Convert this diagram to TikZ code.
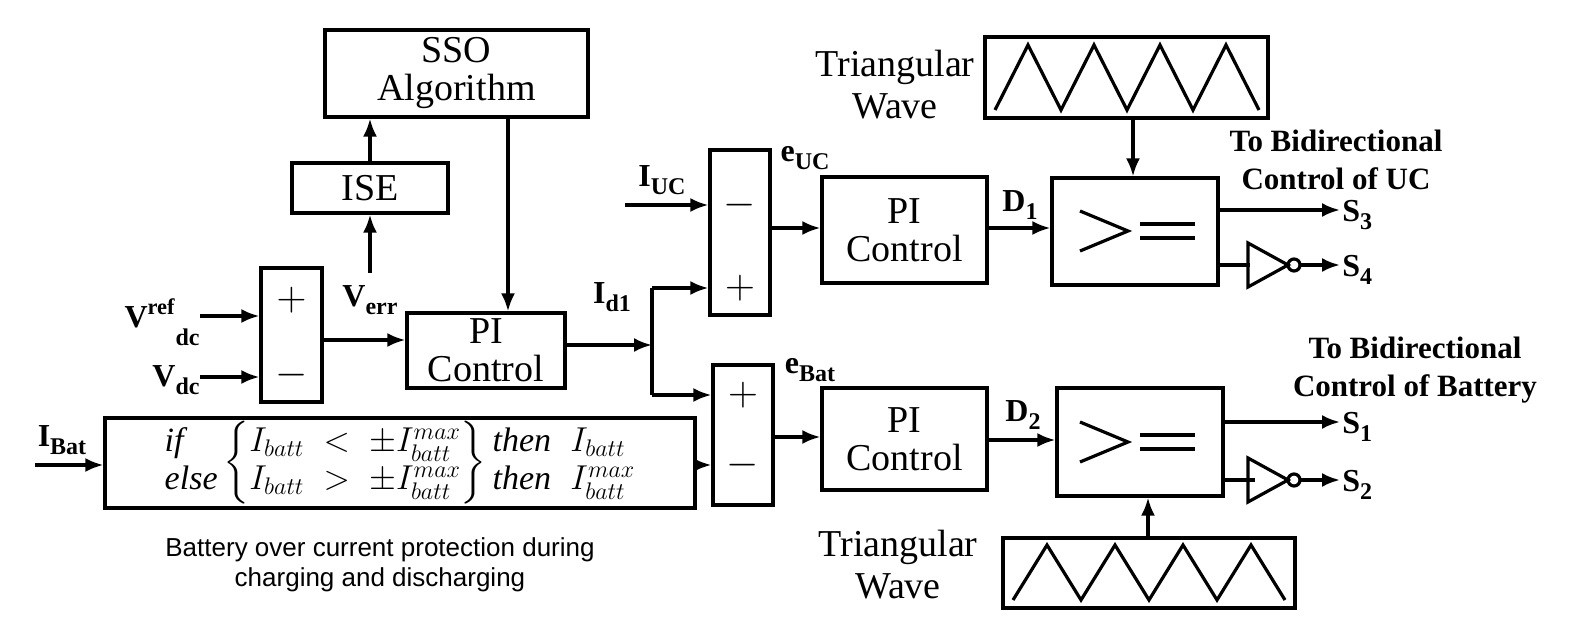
\documentclass[tikz,border=0pt]{standalone}
\usepackage{fontspec}
\usepackage{amsmath}
\setmainfont{Liberation Serif}
\newfontfamily\capsans{Liberation Sans}
\usetikzlibrary{arrows.meta}
\begin{document}
\begin{tikzpicture}[x=0.5pt,y=-0.5pt,
  box/.style={draw,line width=1.6pt,inner sep=0pt,font=\fontsize{19}{19}\selectfont,align=center},
  lbl/.style={font=\fontsize{16}{18}\bfseries\selectfont,inner sep=0pt},
  arr/.style={line width=1.6pt,-{Latex[length=9pt,width=7pt]}},
  ln/.style={line width=1.6pt}]
\useasboundingbox (0,0) rectangle (1578,630);
% boxes
\node[box,minimum width=131.5pt,minimum height=43.5pt] (sso) at (456.5,73.5) {SSO\\Algorithm};
\node[box,minimum width=78pt,minimum height=25pt] (ise) at (370,188) {ISE};
\node[box,minimum width=30.5pt,minimum height=67pt] (s1) at (291.5,335) {};
\node[font=\fontsize{20}{20}\selectfont] at (291.5,300) {$+$};
\node[font=\fontsize{20}{20}\selectfont] at (291.5,375) {$-$};
\node[box,minimum width=79pt,minimum height=37.5pt] (pi1) at (486,350.5) {PI\\Control};
\node[box,minimum width=30pt,minimum height=82.5pt] (s2) at (740,232.5) {};
\node[font=\fontsize{20}{20}\selectfont] at (740,205) {$-$};
\node[font=\fontsize{20}{20}\selectfont] at (740,288) {$+$};
\node[box,minimum width=30pt,minimum height=70pt] (s3) at (743,435) {};
\node[font=\fontsize{20}{20}\selectfont] at (743,395) {$+$};
\node[font=\fontsize{20}{20}\selectfont] at (743,465) {$-$};
\node[box,minimum width=82.5pt,minimum height=53pt] (pi2) at (904.5,230) {PI\\Control};
\node[box,minimum width=82.5pt,minimum height=51pt] (pi3) at (904.5,439) {PI\\Control};
\node[box,minimum width=83pt,minimum height=53.5pt] (c1) at (1135,231.5) {};
\node[box,minimum width=83pt,minimum height=54pt] (c2) at (1140,442) {};
\node[box,minimum width=141.5pt,minimum height=40.5pt] (t1) at (1126.5,77.5) {};
\node[box,minimum width=146pt,minimum height=35pt] (t2) at (1149,573) {};
\node[box,minimum width=295pt,minimum height=45pt] (lim) at (400,463) {%
 \fontsize{17}{20}\selectfont$\renewcommand{\arraystretch}{0.95}\begin{array}{@{}l@{}}\mathit{if}\\ \mathit{else}\end{array}
 \left\{\begin{array}{@{}l@{}}I_{batt} \;<\; \pm I_{batt}^{max}\\ I_{batt} \;>\; \pm I_{batt}^{max}\end{array}\right\}
 \begin{array}{@{}l@{}}\mathit{then}\;\; I_{batt}\\ \mathit{then}\;\; I_{batt}^{max}\end{array}$};
% triangle waves
\foreach \b/\x/\yt/\yb/\w in {t1/995/45/110/66, t2/1013/545/600/68}{
  \draw[ln] (\x,\yb) \foreach \i in {0,...,3}{ -- ++(\w/2,\yt-\yb) -- ++(\w/2,\yb-\yt)};
}
% comparator symbols
\foreach \c/\yy in {c1/231, c2/442}{
  \draw[ln] (1080,\yy-20) -- (1128,\yy) -- (1080,\yy+20);
  \draw[ln] (1140,\yy-7) -- (1195,\yy-7) (1140,\yy+7) -- (1195,\yy+7);
}
% inputs
\coordinate (vr) at (200,316); \coordinate (vd) at (200,377);
\draw[arr] (vr) -- (vr -| s1.west);
\draw[arr] (vd) -- (vd -| s1.west);
\node[lbl,anchor=east] at (200,322) {V$^{\text{ref}}$\raisebox{-9pt}{\fontsize{12}{12}\selectfont dc}};
\node[lbl,anchor=east] at (200,380) {V\raisebox{-4pt}{\fontsize{12}{12}\selectfont dc}};
\draw[arr] (s1.east |- 0,340) -- (pi1.west |- 0,340);
\node[lbl] at (370,300) {V\raisebox{-4pt}{\fontsize{12}{12}\selectfont err}};
\draw[arr] (370,273) -- (ise.south);
\draw[arr] (ise.north) -- (sso.south -| ise.north);
\draw[arr] (sso.south -| 508,0) -- (pi1.north -| 508,0);
\coordinate (br) at (652,345);
\draw[arr] (pi1.east |- br) -- (br);
\node[lbl] at (612,297) {I\raisebox{-4pt}{\fontsize{12}{12}\selectfont d1}};
\draw[ln] (652,288) -- (652,395);
\draw[arr] (652,288) -- (s2.west |- 0,288);
\draw[arr] (652,395) -- (s3.west |- 0,395);
\coordinate (iuc) at (625,205);
\draw[arr] (iuc) -- (iuc -| s2.west);
\node[lbl] at (662,180) {I\raisebox{-4pt}{\fontsize{12}{12}\selectfont UC}};
\node[lbl] at (805,158) {e\raisebox{-4pt}{\fontsize{12}{12}\selectfont UC}};
\node[lbl] at (810,370) {e\raisebox{-4pt}{\fontsize{12}{12}\selectfont Bat}};
\draw[arr] (s2.east |- 0,228) -- (pi2.west |- 0,228);
\draw[arr] (s3.east |- 0,437) -- (pi3.west |- 0,437);
\draw[arr] (pi2.east |- 0,228) -- (c1.west |- 0,228);
\draw[arr] (pi3.east |- 0,440) -- (c2.west |- 0,440);
\node[lbl] at (1020,205) {D\raisebox{-4pt}{\fontsize{12}{12}\selectfont 1}};
\node[lbl] at (1023,415) {D\raisebox{-4pt}{\fontsize{12}{12}\selectfont 2}};
\draw[arr] (t1.south -| 1133,0) -- (c1.north -| 1133,0);
\draw[arr] (t2.north -| 1148,0) -- (c2.south -| 1148,0);
\coordinate (ib) at (35,465);
\draw[arr] (ib) -- (ib -| lim.west);
\node[lbl] at (62,440) {I\raisebox{-4pt}{\fontsize{12}{12}\selectfont Bat}};
\draw[arr] (lim.east |- 0,465) -- (s3.west |- 0,465);
% outputs
\foreach \c/\ya/\yb/\sa/\sb in {c1/210/265/3/4, c2/422/480/1/2}{
  \coordinate (o\sa) at (1340,\ya); \coordinate (o\sb) at (1340,\yb);
  \draw[arr] (\c.east |- o\sa) -- (o\sa);
  \draw[ln] (\c.east |- o\sb) -- ++(30,0);
  \draw[ln] (1248,\yb-22) -- (1288,\yb) -- (1248,\yb+22) -- cycle;
  \draw[ln] (1294,\yb) circle[radius=6];
  \draw[arr] (1300,\yb) -- (o\sb);
  \node[lbl,anchor=west] at (1342,\ya+5) {S\raisebox{-4pt}{\fontsize{12}{12}\selectfont \sa}};
  \node[lbl,anchor=west] at (1342,\yb+5) {S\raisebox{-4pt}{\fontsize{12}{12}\selectfont \sb}};
}
\node[lbl,align=center,font=\fontsize{15.5}{19}\bfseries\selectfont] at (1336,160) {To Bidirectional\\Control of UC};
\node[lbl,align=center,font=\fontsize{15.5}{19}\bfseries\selectfont] at (1415,370) {To Bidirectional\\Control of Battery};
\node[align=center,font=\fontsize{19}{21}\selectfont] at (895,85) {Triangular\\Wave};
\node[align=center,font=\fontsize{19}{21}\selectfont] at (898,565) {Triangular\\Wave};
\node[align=center,font=\capsans\fontsize{13}{15}\selectfont] at (380,565) {Battery over current protection during\\charging and discharging};
\end{tikzpicture}
\end{document}
